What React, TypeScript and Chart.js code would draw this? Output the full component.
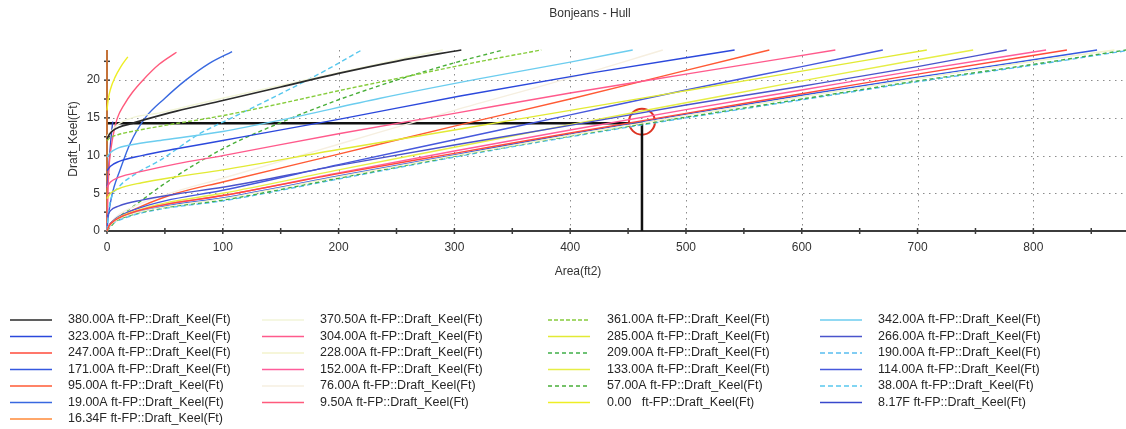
import React, { useEffect, useRef } from "react";
import { Chart, registerables } from "chart.js";

Chart.register(...registerables);

const titleText = "Bonjeans - Hull";
const xTitle = "Area(ft2)";
const yTitle = "Draft_Keel(Ft)";

const xTicks = [0, 100, 200, 300, 400, 500, 600, 700, 800];
const yTicks = [0, 5, 10, 15, 20];
const xMinorTicks = [0, 50, 100, 150, 200, 250, 300, 350, 400, 450, 500, 550, 600, 650, 700, 750, 800, 850];
const yMinorTicks = [0, 2.5, 5, 7.5, 10, 12.5, 15, 17.5, 20, 22.5];

const stations = [
  "380.00A", "370.50A", "361.00A", "342.00A",
  "323.00A", "304.00A", "285.00A", "266.00A",
  "247.00A", "228.00A", "209.00A", "190.00A",
  "171.00A", "152.00A", "133.00A", "114.00A",
  "95.00A", "76.00A", "57.00A", "38.00A",
  "19.00A", "9.50A", "0.00  ", "8.17F",
  "16.34F",
];

const seriesColors = [
  "#2a2a2a", "#f2f5d8", "#86cc3c", "#6ccdef",
  "#2b48dc", "#ff5a8c", "#e2ea34", "#4a54cc",
  "#ff4a3a", "#f3f3cc", "#3fae48", "#58bdf0",
  "#3558e0", "#ff5c9a", "#e6ee46", "#4658dc",
  "#ff5a34", "#f6efe0", "#48ae38", "#58c8ee",
  "#3868e0", "#ff5a7c", "#eeee24", "#3848cc",
  "#ff8a38",
];

const seriesDash = [
  [], [], [4, 2], [],
  [], [], [], [],
  [], [], [4, 3], [5, 3],
  [], [], [], [],
  [], [], [4, 3], [5, 3],
  [], [], [], [],
  [],
];

// [area ft2, draft ft]
const s380A = [[0, 12.2], [2, 12.8], [5, 13.3], [11, 13.8], [20, 14.2], [31, 14.7], [60, 15.9], [100, 17.3], [150, 19.1], [200, 20.9], [250, 22.5], [306, 24]];
const s370A = [[0, 12.6], [10, 14.2], [50, 15.8], [100, 17.6], [200, 21.0], [290, 24]];
const s361A = [[0, 12.0], [3, 12.4], [10, 12.8], [25, 13.3], [50, 14.0], [100, 15.3], [150, 16.9], [200, 18.6], [250, 20.2], [300, 21.8], [340, 23.0], [375, 24]];
const s342A = [[0, 9.8], [3, 10.4], [8, 10.9], [20, 11.4], [50, 12.1], [100, 13.2], [150, 14.7], [236, 17.6], [322, 20.2], [400, 22.4], [454, 24]];
const s323A = [[0, 8.0], [3, 8.6], [10, 9.2], [30, 10.0], [60, 10.9], [100, 12.0], [200, 14.8], [305, 17.9], [420, 21.0], [542, 24]];
const s304A = [[0, 5.8], [3, 6.5], [10, 7.1], [30, 7.9], [60, 8.9], [100, 10.0], [200, 12.9], [300, 15.6], [400, 18.3], [500, 20.8], [629, 24]];
const s285A = [[0, 4.3], [3, 5.0], [10, 5.6], [30, 6.4], [60, 7.2], [100, 8.1], [200, 10.8], [300, 13.4], [400, 16.0], [500, 18.6], [600, 21.2], [708, 24]];
const s266A = [[0, 1.9], [3, 2.7], [10, 3.3], [30, 4.1], [60, 4.9], [100, 5.8], [200, 8.7], [300, 11.4], [400, 14.0], [500, 16.7], [600, 19.2], [700, 21.8], [777, 24]];
const s247A = [[0, 0], [2, 0.7], [5, 1.2], [10, 1.7], [25, 2.6], [50, 3.5], [100, 4.7], [200, 7.6], [300, 10.3], [400, 13.0], [500, 15.6], [600, 18.2], [700, 20.8], [829, 24]];
const s228A = [[0, 0], [2, 0.6], [5, 1.1], [10, 1.6], [25, 2.4], [50, 3.2], [100, 4.3], [200, 7.2], [300, 10.0], [400, 12.7], [500, 15.3], [600, 17.8], [700, 20.2], [800, 22.5], [870, 24]];
const s209A = [[0, 0], [2, 0.6], [5, 1.0], [10, 1.5], [25, 2.3], [50, 3.1], [100, 4.1], [200, 7.0], [300, 9.9], [400, 12.6], [500, 15.1], [600, 17.5], [700, 19.9], [800, 22.1], [880, 24]];
const s190A = [[0, 0], [2, 0.5], [5, 1.0], [10, 1.4], [25, 2.2], [50, 3.0], [100, 4.0], [200, 6.9], [300, 9.8], [400, 12.5], [500, 15.0], [600, 17.4], [700, 19.8], [800, 22.0], [880, 23.9]];
const s171A = [[0, 0], [2, 0.6], [5, 1.1], [10, 1.6], [25, 2.4], [50, 3.3], [100, 4.4], [200, 7.3], [300, 10.1], [400, 12.9], [500, 15.5], [600, 18.0], [700, 20.4], [800, 22.7], [855, 24]];
const s152A = [[0, 0], [2, 0.7], [5, 1.2], [10, 1.7], [25, 2.6], [50, 3.5], [100, 4.7], [200, 7.7], [300, 10.6], [400, 13.4], [500, 16.1], [600, 18.7], [700, 21.3], [811, 24]];
const s133A = [[0, 0], [2, 0.7], [5, 1.2], [10, 1.8], [25, 2.7], [50, 3.7], [100, 5.0], [200, 8.1], [300, 11.1], [400, 14.1], [500, 17.0], [600, 19.9], [700, 22.7], [748, 24]];
const s114A = [[0, 0], [2, 0.8], [5, 1.3], [10, 1.9], [25, 2.9], [50, 4.0], [100, 5.4], [200, 8.8], [300, 12.1], [400, 15.4], [500, 18.7], [600, 21.8], [670, 24]];
const s95A = [[0, 0], [2, 0.8], [5, 1.3], [11, 1.9], [30, 3.3], [60, 5.0], [100, 6.5], [200, 10.2], [300, 13.9], [400, 17.5], [500, 21.3], [572, 24]];
const s76A = [[0, 0], [5, 1.4], [20, 3.0], [50, 4.8], [100, 7.0], [200, 11.5], [300, 16.0], [400, 20.3], [480, 24]];
const s57A = [[0, 0], [5, 0.9], [11, 1.9], [25, 3.5], [50, 6.3], [100, 10.9], [155, 14.7], [200, 17.4], [250, 20.0], [300, 22.3], [342, 24]];
const s38A = [[0, 0], [1, 2.0], [3, 4.0], [10, 5.8], [25, 7.6], [46, 9.4], [80, 12.9], [109, 15.1], [150, 18.2], [190, 21.4], [220, 24]];
const s19A = [[0, 0], [1, 1.8], [3, 3.8], [6, 5.8], [11, 8.0], [20, 11.6], [33, 15.0], [50, 17.6], [68, 20.0], [88, 22.2], [108, 23.8]];
const s9_5A = [[0, 0], [0.5, 3], [1, 6], [2, 9], [3.5, 11], [6, 13.2], [9, 15], [15, 16.8], [22, 18.4], [31, 20], [45, 22.1], [60, 23.7]];
const s0_00 = [[0, 16.0], [1, 17.4], [3, 18.8], [7, 20.4], [12, 21.8], [18, 23.1]];
const s8_17F = [[0, 5.8], [1, 7.5], [2, 9.5], [3, 11.5], [4, 13.2], [5, 14.5]];
const s16_34F = [[0, 0], [0, 24]];

const seriesData = [
  s380A, s370A, s361A, s342A,
  s323A, s304A, s285A, s266A,
  s247A, s228A, s209A, s190A,
  s171A, s152A, s133A, s114A,
  s95A, s76A, s57A, s38A,
  s19A, s9_5A, s0_00, s8_17F,
  s16_34F,
];

// read-off marker: draft 14.3 ft -> area 462 ft2
const markerPath = [[0, 14.3], [462, 14.3], [462, 0]];
const markerCircle = [[462, 14.5]];

const FONT = "'Liberation Sans', Arial, sans-serif";

const drawPlugin = {
  id: "bonjeanDecor",
  beforeDraw(chart: any) {
    const { ctx, width, height } = chart;
    ctx.save();
    ctx.fillStyle = "#ffffff";
    ctx.fillRect(0, 0, width, height);
    ctx.restore();
  },
  beforeDatasetsDraw(chart: any) {
    const { ctx, chartArea } = chart;
    const xs = chart.scales.x;
    const ys = chart.scales.y;
    ctx.save();
    // dotted grid
    ctx.strokeStyle = "#8c8c8c";
    ctx.lineWidth = 1;
    ctx.setLineDash([1.5, 4.5]);
    xTicks.forEach((v) => {
      if (v === 0) return;
      const px = Math.round(xs.getPixelForValue(v)) + 0.5;
      ctx.beginPath();
      ctx.moveTo(px, chartArea.top);
      ctx.lineTo(px, chartArea.bottom);
      ctx.stroke();
    });
    yTicks.forEach((v) => {
      if (v === 0) return;
      const py = Math.round(ys.getPixelForValue(v)) + 0.5;
      ctx.beginPath();
      ctx.moveTo(chartArea.left, py);
      ctx.lineTo(chartArea.right, py);
      ctx.stroke();
    });
    ctx.setLineDash([]);
    // axes
    ctx.strokeStyle = "#3c3c3c";
    ctx.lineWidth = 2;
    ctx.beginPath();
    ctx.moveTo(chartArea.left, chartArea.bottom);
    ctx.lineTo(chartArea.right, chartArea.bottom);
    ctx.moveTo(chartArea.left, chartArea.bottom);
    ctx.lineTo(chartArea.left, chartArea.top);
    ctx.stroke();
    ctx.lineWidth = 1.5;
    xMinorTicks.forEach((v) => {
      const px = xs.getPixelForValue(v);
      ctx.beginPath();
      ctx.moveTo(px, chartArea.bottom - 3);
      ctx.lineTo(px, chartArea.bottom + 3);
      ctx.stroke();
    });
    yMinorTicks.forEach((v) => {
      const py = ys.getPixelForValue(v);
      ctx.beginPath();
      ctx.moveTo(chartArea.left - 3, py);
      ctx.lineTo(chartArea.left + 3, py);
      ctx.stroke();
    });
    ctx.restore();
  },
  afterDraw(chart: any) {
    const { ctx } = chart;
    ctx.save();
    ctx.fillStyle = "#333333";
    ctx.font = `12px ${FONT}`;
    ctx.textAlign = "center";
    ctx.textBaseline = "middle";
    ctx.fillText(titleText, 590, 14);
    ctx.fillText(xTitle, 578, 272);
    ctx.save();
    ctx.translate(74, 139);
    ctx.rotate(-Math.PI / 2);
    ctx.fillText(yTitle, 0, 0);
    ctx.restore();

    // legend grid (4 columns, row-major)
    const sampleX = [10, 262, 548, 820];
    const textX = [68, 320, 607, 878];
    const rowTop = 320;
    const rowStep = 16.5;
    ctx.textAlign = "left";
    ctx.fillStyle = "#262626";
    ctx.font = `12.5px ${FONT}`;
    stations.forEach((st, i) => {
      const col = i % 4;
      const row = Math.floor(i / 4);
      const y = rowTop + row * rowStep;
      ctx.strokeStyle = seriesColors[i];
      ctx.lineWidth = 1.6;
      ctx.setLineDash(seriesDash[i]);
      ctx.beginPath();
      ctx.moveTo(sampleX[col], y);
      ctx.lineTo(sampleX[col] + 42, y);
      ctx.stroke();
      ctx.setLineDash([]);
      ctx.fillText(`${st} ft-FP::Draft_Keel(Ft)`, textX[col], y);
    });
    ctx.restore();
  },
};

export default function App() {
  const ref = useRef<HTMLCanvasElement | null>(null);

  useEffect(() => {
    document.body.style.margin = "0";
    const canvas = ref.current;
    if (!canvas) return;

    const datasets: any[] = seriesData.map((pts, i) => ({
      label: stations[i],
      data: pts.map(([x, y]) => ({ x, y })),
      borderColor: seriesColors[i],
      borderWidth: i === 0 ? 1.7 : 1.4,
      borderDash: seriesDash[i],
      pointRadius: 0,
      fill: false,
      cubicInterpolationMode: i === seriesData.length - 1 ? "default" : "monotone",
      tension: 0,
      clip: 6,
    }));
    datasets.push({
      label: "marker",
      data: markerPath.map(([x, y]) => ({ x, y })),
      borderColor: "#111111",
      borderWidth: 2.5,
      pointRadius: 0,
      fill: false,
      tension: 0,
      clip: 6,
    });
    datasets.push({
      label: "circle",
      data: markerCircle.map(([x, y]) => ({ x, y })),
      showLine: false,
      pointRadius: 13,
      pointBorderWidth: 2,
      pointBorderColor: "#dd3322",
      pointBackgroundColor: "rgba(0,0,0,0)",
      clip: 20,
    });

    const chart = new Chart(canvas, {
      type: "line",
      data: { datasets },
      options: {
        responsive: false,
        animation: false,
        devicePixelRatio: 1,
        events: [],
        layout: { autoPadding: false, padding: { top: 50, left: 0, right: 0, bottom: 0 } },
        plugins: {
          legend: { display: false },
          title: { display: false },
          tooltip: { enabled: false },
        },
        scales: {
          x: {
            type: "linear",
            min: 0,
            max: 880,
            afterBuildTicks: (s: any) => {
              s.ticks = xTicks.map((v) => ({ value: v }));
            },
            afterFit: (s: any) => {
              s.height = 198;
            },
            grid: { display: false, drawTicks: false },
            border: { display: false },
            ticks: {
              padding: 9,
              color: "#333333",
              font: { family: FONT, size: 12 },
              maxRotation: 0,
              autoSkip: false,
            },
          },
          y: {
            type: "linear",
            min: 0,
            max: 24,
            afterBuildTicks: (s: any) => {
              s.ticks = yTicks.map((v) => ({ value: v }));
            },
            afterFit: (s: any) => {
              s.width = 107;
            },
            grid: { display: false, drawTicks: false },
            border: { display: false },
            ticks: {
              padding: 7,
              color: "#333333",
              font: { family: FONT, size: 12 },
              autoSkip: false,
            },
          },
        },
      },
      plugins: [drawPlugin],
    });

    return () => chart.destroy();
  }, []);

  return (
    <div style={{ width: 1126, height: 429 }}>
      <canvas ref={ref} width={1126} height={429} style={{ display: "block" }} />
    </div>
  );
}
